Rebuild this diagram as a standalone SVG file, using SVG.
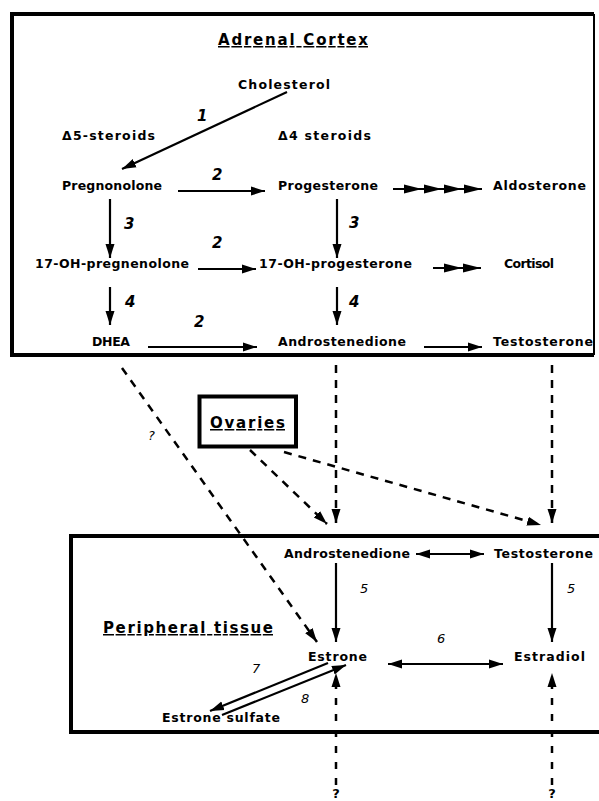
<svg xmlns="http://www.w3.org/2000/svg" width="599" height="801" viewBox="0 0 599 801">
<style>
text{font-family:"DejaVu Sans","Liberation Sans",sans-serif;fill:#000}
.t{font-size:12.5px;font-weight:bold}
.h{font-size:15px;font-weight:bold;text-decoration:underline}
.n{font-size:15px;font-weight:bold;font-style:italic}
.s{font-size:13px;font-style:italic}
.q{font-size:13px;font-weight:bold}
.ln{stroke:#000;stroke-width:2.2;fill:none}
.ds{stroke:#000;stroke-width:2.5;fill:none;stroke-dasharray:8 7}
.dv{stroke:#000;stroke-width:2.5;fill:none;stroke-dasharray:7 9}
.box{stroke:#000;stroke-width:4;fill:none}
</style>
<defs>
<marker id="ah" markerUnits="userSpaceOnUse" markerWidth="16" markerHeight="12" refX="14" refY="6" orient="auto">
<path d="M0,1.5 L14,6 L0,10.5 z" fill="#000"/>
</marker>
<marker id="as" markerUnits="userSpaceOnUse" markerWidth="16" markerHeight="12" refX="0" refY="6" orient="auto">
<path d="M14,1.5 L0,6 L14,10.5 z" fill="#000"/>
</marker>
<marker id="am" markerUnits="userSpaceOnUse" markerWidth="20" markerHeight="12" refX="18" refY="6" orient="auto">
<path d="M0,1.5 L18,6 L0,10.5 z" fill="#000"/>
</marker>
</defs>

<g id="adrenal-cortex">
<path d="M12,14 H594 M12,355 H594 M12,12 V357" class="box"/>
<path d="M594,14 V355" stroke="#000" stroke-width="2" fill="none"/>
<text class="h" x="218" y="45" textLength="150" lengthAdjust="spacing">Adrenal Cortex</text>
</g>
<g id="delta5"><text class="t" x="62" y="140" textLength="93" lengthAdjust="spacing">Δ5-steroids</text></g>
<g id="delta4"><text class="t" x="278" y="140" textLength="93" lengthAdjust="spacing">Δ4 steroids</text></g>
<g id="cholesterol"><text class="t" x="238" y="89" textLength="92" lengthAdjust="spacing">Cholesterol</text></g>
<g id="pregnenolone"><text class="t" x="62" y="190" textLength="100" lengthAdjust="spacing">Pregnonolone</text></g>
<g id="progesterone"><text class="t" x="278" y="190" textLength="100" lengthAdjust="spacing">Progesterone</text></g>
<g id="aldosterone"><text class="t" x="493" y="190" textLength="93" lengthAdjust="spacing">Aldosterone</text></g>
<g id="oh-pregnenolone"><text class="t" x="35" y="268" textLength="154" lengthAdjust="spacing">17-OH-pregnenolone</text></g>
<g id="oh-progesterone"><text class="t" x="259" y="268" textLength="153" lengthAdjust="spacing">17-OH-progesterone</text></g>
<g id="cortisol"><text class="t" x="504" y="268" textLength="50" lengthAdjust="spacing">Cortisol</text></g>
<g id="dhea"><text class="t" x="92" y="346" textLength="38" lengthAdjust="spacing">DHEA</text></g>
<g id="androstenedione-a"><text class="t" x="278" y="346" textLength="128" lengthAdjust="spacing">Androstenedione</text></g>
<g id="testosterone-a"><text class="t" x="493" y="346" textLength="100" lengthAdjust="spacing">Testosterone</text></g>

<g id="ovaries">
<rect x="199.5" y="396.5" width="96.5" height="50" class="box"/>
<text class="h" x="210" y="428" textLength="75" lengthAdjust="spacing">Ovaries</text>
</g>

<g id="peripheral-tissue">
<path d="M601,536 H71 V732 H601" class="box"/>
<text class="h" x="103" y="633" textLength="170" lengthAdjust="spacing">Peripheral tissue</text>
</g>
<g id="androstenedione-p"><text class="t" x="284" y="558" textLength="126" lengthAdjust="spacing">Androstenedione</text></g>
<g id="testosterone-p"><text class="t" x="494" y="558" textLength="99" lengthAdjust="spacing">Testosterone</text></g>
<g id="estrone"><text class="t" x="308" y="661" textLength="59" lengthAdjust="spacing">Estrone</text></g>
<g id="estradiol"><text class="t" x="514" y="661" textLength="71" lengthAdjust="spacing">Estradiol</text></g>
<g id="estrone-sulfate"><text class="t" x="162" y="722" textLength="118" lengthAdjust="spacing">Estrone sulfate</text></g>

<g id="connectors">
<line x1="287" y1="92" x2="122" y2="169" class="ln" marker-end="url(#ah)"/>
<line x1="178" y1="191" x2="265" y2="191" class="ln" marker-end="url(#ah)"/>
<polyline points="393,189 422,189 442,189 462,189 482,189" class="ln" marker-mid="url(#am)" marker-end="url(#am)"/>
<line x1="110" y1="199" x2="110" y2="258" class="ln" marker-end="url(#ah)"/>
<line x1="198" y1="269" x2="256" y2="269" class="ln" marker-end="url(#ah)"/>
<polyline points="433,268 462,268 481,268" class="ln" marker-mid="url(#am)" marker-end="url(#am)"/>
<line x1="110" y1="287" x2="110" y2="325" class="ln" marker-end="url(#ah)"/>
<line x1="337" y1="199" x2="337" y2="258" class="ln" marker-end="url(#ah)"/>
<line x1="337" y1="287" x2="337" y2="325" class="ln" marker-end="url(#ah)"/>
<line x1="148" y1="347" x2="257" y2="347" class="ln" marker-end="url(#ah)"/>
<line x1="424" y1="347" x2="482" y2="347" class="ln" marker-end="url(#ah)"/>

<line x1="122" y1="368" x2="317" y2="642" class="ds" marker-end="url(#ah)"/>
<line x1="336" y1="365" x2="336" y2="523" class="ds" marker-end="url(#ah)"/>
<line x1="552" y1="365" x2="552" y2="523" class="ds" marker-end="url(#ah)"/>
<line x1="250" y1="450" x2="327" y2="524" class="ds" marker-end="url(#ah)"/>
<line x1="284" y1="452" x2="541" y2="525" class="ds" marker-end="url(#ah)"/>

<line x1="416" y1="554" x2="484" y2="554" class="ln" marker-start="url(#as)" marker-end="url(#ah)"/>
<line x1="336" y1="563" x2="336" y2="642" class="ln" marker-end="url(#ah)"/>
<line x1="552" y1="563" x2="552" y2="642" class="ln" marker-end="url(#ah)"/>
<line x1="388" y1="664" x2="503" y2="664" class="ln" marker-start="url(#as)" marker-end="url(#ah)"/>
<line x1="328" y1="663" x2="210" y2="711" class="ln" marker-end="url(#ah)"/>
<line x1="222" y1="715" x2="346" y2="665" class="ln" marker-end="url(#ah)"/>
<line x1="336" y1="785" x2="336" y2="673" class="dv" marker-end="url(#ah)"/>
<line x1="552" y1="785" x2="552" y2="673" class="dv" marker-end="url(#ah)"/>

<text class="n" x="197" y="121">1</text>
<text class="n" x="212" y="180">2</text>
<text class="n" x="124" y="229">3</text>
<text class="n" x="212" y="248">2</text>
<text class="n" x="125" y="307">4</text>
<text class="n" x="194" y="327">2</text>
<text class="n" x="349" y="228">3</text>
<text class="n" x="349" y="307">4</text>
<text class="s" x="148" y="440">?</text>
<text class="s" x="360" y="593">5</text>
<text class="s" x="567" y="593">5</text>
<text class="s" x="437" y="643">6</text>
<text class="s" x="252" y="673">7</text>
<text class="s" x="301" y="703">8</text>
<text class="q" x="336" y="798" text-anchor="middle">?</text>
<text class="q" x="552" y="798" text-anchor="middle">?</text>
</g>
</svg>
